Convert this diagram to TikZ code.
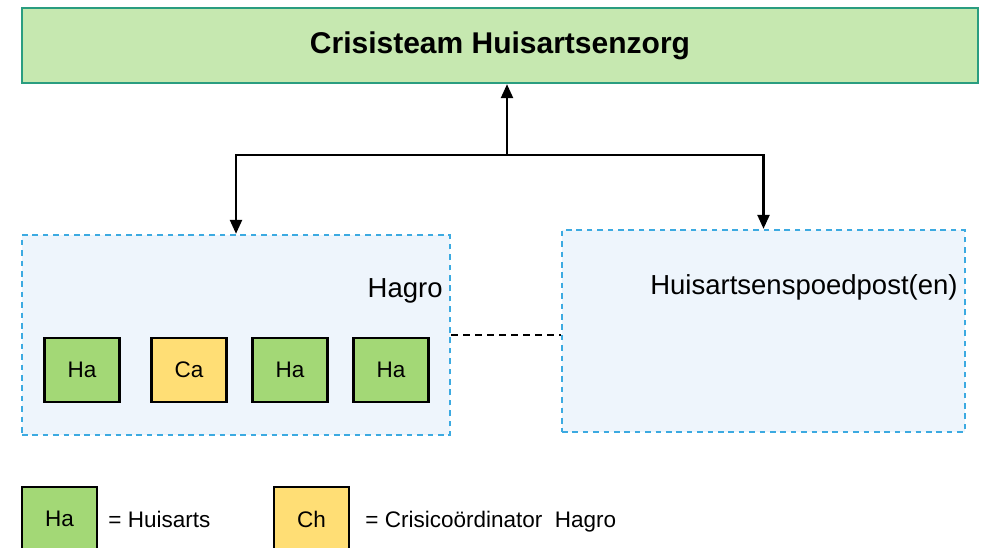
\documentclass[tikz,border=0pt]{standalone}
\usepackage{fontspec}
\setmainfont{Liberation Sans}
\usepackage{xcolor}
\usepackage{tikz}
\usetikzlibrary{arrows.meta,positioning,calc}
\definecolor{ink}     {HTML}{000000}
\definecolor{teamFill}{HTML}{C6E8B0}
\definecolor{teamLine}{HTML}{2A9D80}
\definecolor{haFill}  {HTML}{A3D876}
\definecolor{chFill}  {HTML}{FFDE75}
\definecolor{postFill}{HTML}{EEF5FC}
\definecolor{postLine}{HTML}{3CAAE1}

\begin{document}
\begin{tikzpicture}[
  x=0.5pt, y=-0.5pt,
  every node/.style={font=\fontsize{11.25}{13}\selectfont, text=ink},
  team/.style={rectangle, draw=teamLine, line width=1.2pt, fill=teamFill,
               minimum width=478pt, minimum height=37.5pt,
               font=\fontsize{15}{18}\selectfont\bfseries},
  area/.style={rectangle, draw=postLine, fill=postFill, line width=1.2pt,
               dash pattern=on 2.8pt off 2.4pt},
  lab/.style={font=\fontsize{13.75}{16}\selectfont, inner sep=0pt},
  mem/.style={rectangle, draw=ink, line width=1.2pt, minimum width=37.5pt,
              minimum height=32pt, inner sep=0pt},
  ha/.style={mem, fill=haFill},
  ca/.style={mem, fill=chFill},
  link/.style={draw=ink, line width=1.2pt, -{Triangle[length=7pt,width=6pt]}},
  legtxt/.style={anchor=base west, inner sep=0pt}
]
\useasboundingbox (0,0) rectangle (991,547);
\node[team] (crisis) at (500,45.5) {Crisisteam Huisartsenzorg};
\node[area, minimum width=214pt, minimum height=100pt] (hagro) at (236,335) {};
\node[area, minimum width=201.5pt, minimum height=101pt] (hap) at (763.5,331) {};
\node[lab, anchor=base east] (hagrolab) at (443,297) {Hagro};
\node[lab, anchor=base east] (haplab) at (958,294) {Huisartsenspoedpost(en)};
% leden hagro
\node[ha] (ha1) at (82,370) {Ha};
\node[ca] (ca)  at (189,370) {Ca};
\node[ha] (ha2) at (290,370) {Ha};
\node[ha] (ha3) at (391,370) {Ha};
% verbindingen
\coordinate (split) at (507,155);
\draw[link] (split) -- (split |- crisis.south);
\draw[link] (split) -| (hagro.north);
\draw[link] (split) -| (hap.north);
\draw[ink, line width=1.2pt, dash pattern=on 3.5pt off 2.5pt] (hagro.east) -- (hagro.east -| hap.west);
% legenda
\node[ha] (legha) at (59.5,519) {Ha};
\node[legtxt] (leghatxt) at (108,527) {= Huisarts};
\node[ca] (legch) at (311.5,519) {Ch};
\node[legtxt] (legchtxt) at (365,527) {= Crisicoördinator~~Hagro};
\end{tikzpicture}
\end{document}
